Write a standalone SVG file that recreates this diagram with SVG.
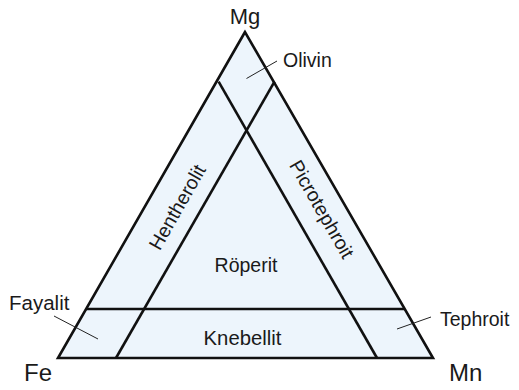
<svg xmlns="http://www.w3.org/2000/svg" width="519" height="390" viewBox="0 0 519 390">
<style>
.edge{fill:none;stroke:#111;stroke-width:2.6;stroke-linejoin:miter}
.lead{fill:none;stroke:#222;stroke-width:1}
text{font-family:"Liberation Sans",Arial,sans-serif;fill:#1a1a1a}
.lbl{font-size:19.5px}
.corner{font-size:24px}
</style>
<rect width="519" height="390" fill="#ffffff"/>
<g id="triangle">
<polygon points="245,32 58,358 433,358" fill="#edf5fc" stroke="#111" stroke-width="2.6" stroke-linejoin="miter"/>
</g>
<g id="connectors">
<line class="edge" x1="86" y1="309" x2="405" y2="309"/>
<line class="edge" x1="116" y1="358" x2="274.5" y2="81.7"/>
<line class="edge" x1="377" y1="358" x2="218.6" y2="81.7"/>
<line class="lead" x1="246.5" y1="78.5" x2="277" y2="61"/>
<line class="lead" x1="54" y1="316" x2="98" y2="339"/>
<line class="lead" x1="397" y1="329" x2="431" y2="317"/>
</g>
<g id="node-mg"><text class="corner" x="245" y="23.5" text-anchor="middle" style="font-size:22px">Mg</text></g>
<g id="node-fe"><text class="corner" x="24" y="381">Fe</text></g>
<g id="node-mn"><text class="corner" x="449" y="381">Mn</text></g>
<g id="node-olivin"><text class="lbl" x="283" y="66.5">Olivin</text></g>
<g id="node-fayalit"><text class="lbl" x="9" y="309.5" style="font-size:20.5px">Fayalit</text></g>
<g id="node-tephroit"><text class="lbl" x="440" y="325.5">Tephroit</text></g>
<g id="node-roperit"><text class="lbl" x="246" y="271.5" text-anchor="middle">Röperit</text></g>
<g id="node-knebellit"><text class="lbl" x="242.5" y="345" text-anchor="middle" style="font-size:20.3px">Knebellit</text></g>
<g id="node-hentherolit"><text class="lbl" x="0" y="0" text-anchor="middle" dominant-baseline="central" transform="translate(177,207) rotate(-60.2)">Hentherolit</text></g>
<g id="node-picrotephroit"><text class="lbl" x="0" y="0" text-anchor="middle" dominant-baseline="central" transform="translate(322,209) rotate(60.2)">Picrotephroit</text></g>
</svg>
